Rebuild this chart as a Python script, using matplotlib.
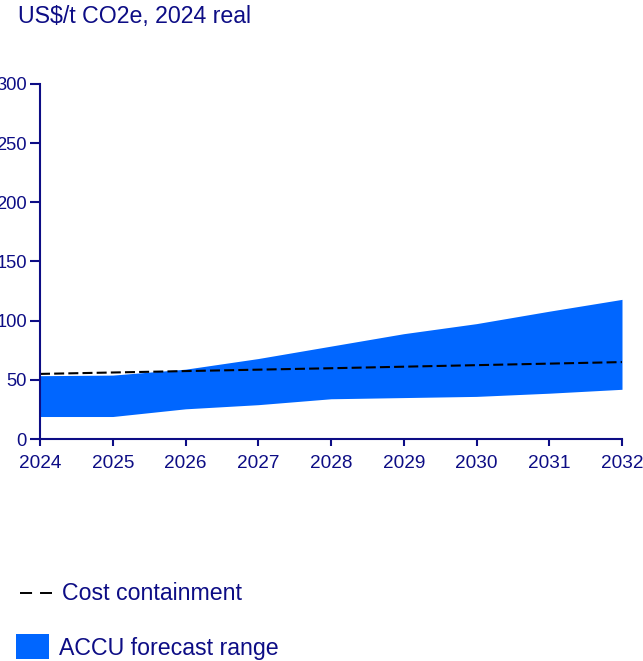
import matplotlib
matplotlib.use("Agg")
import matplotlib.pyplot as plt
from matplotlib.lines import Line2D
from matplotlib.patches import Rectangle

plt.rcParams['font.family'] = ['Liberation Sans', 'DejaVu Sans']

years = [2024, 2025, 2026, 2027, 2028, 2029, 2030, 2031, 2032]
accu_low = [19, 19, 25.5, 29, 34, 35, 36, 38.7, 42]
accu_high = [53.5, 54, 59, 68, 78.5, 89, 97.5, 108, 118]
cost_containment = [55, 56.2, 57.4, 58.6, 59.8, 61.1, 62.4, 63.7, 65]
yticks = [0, 50, 100, 150, 200, 250, 300]

NAVY = '#0d0d85'
BLUE = '#0066ff'

fig = plt.figure(figsize=(6.43, 6.61), dpi=100)
ax = fig.add_axes([40/643, 222/661, 582/643, 355/661])

ax.fill_between(years, accu_low, accu_high, color=BLUE, linewidth=0)
ax.plot(years, cost_containment, color='black', linestyle=(0, (4.8, 2.0)), linewidth=1.5)

ax.set_xlim(2024, 2032)
ax.set_ylim(0, 300)
ax.set_xticks(years)
ax.set_yticks(yticks)
for s in ['top', 'right']:
    ax.spines[s].set_visible(False)
for s in ['left', 'bottom']:
    ax.spines[s].set_color(NAVY)
    ax.spines[s].set_linewidth(1.5)
ax.tick_params(axis='both', colors=NAVY, labelcolor=NAVY, width=1.5, direction='out')
ax.tick_params(axis='y', length=7, pad=2.5, labelsize=13.2)
ax.tick_params(axis='x', length=5, pad=6.5, labelsize=13.7)

fig.text(18/643, 1 - 16/661, 'US$/t CO2e, 2024 real', color=NAVY, fontsize=16.7,
         ha='left', va='center')

# legend
fig.add_artist(Line2D([20/643, 52/643], [1 - 593/661, 1 - 593/661], color='black',
                      linestyle=(0, (6.2, 4.1)), linewidth=1.4, transform=fig.transFigure))
fig.text(62/643, 1 - 593/661, 'Cost containment', color=NAVY, fontsize=16.7,
         ha='left', va='center')
fig.add_artist(Rectangle((16/643, 1 - 659/661), 33/643, 25/661, color=BLUE,
                         transform=fig.transFigure, linewidth=0))
fig.text(59/643, 1 - 648/661, 'ACCU forecast range', color=NAVY, fontsize=16.7,
         ha='left', va='center')

fig.savefig('out.png', dpi=100)
